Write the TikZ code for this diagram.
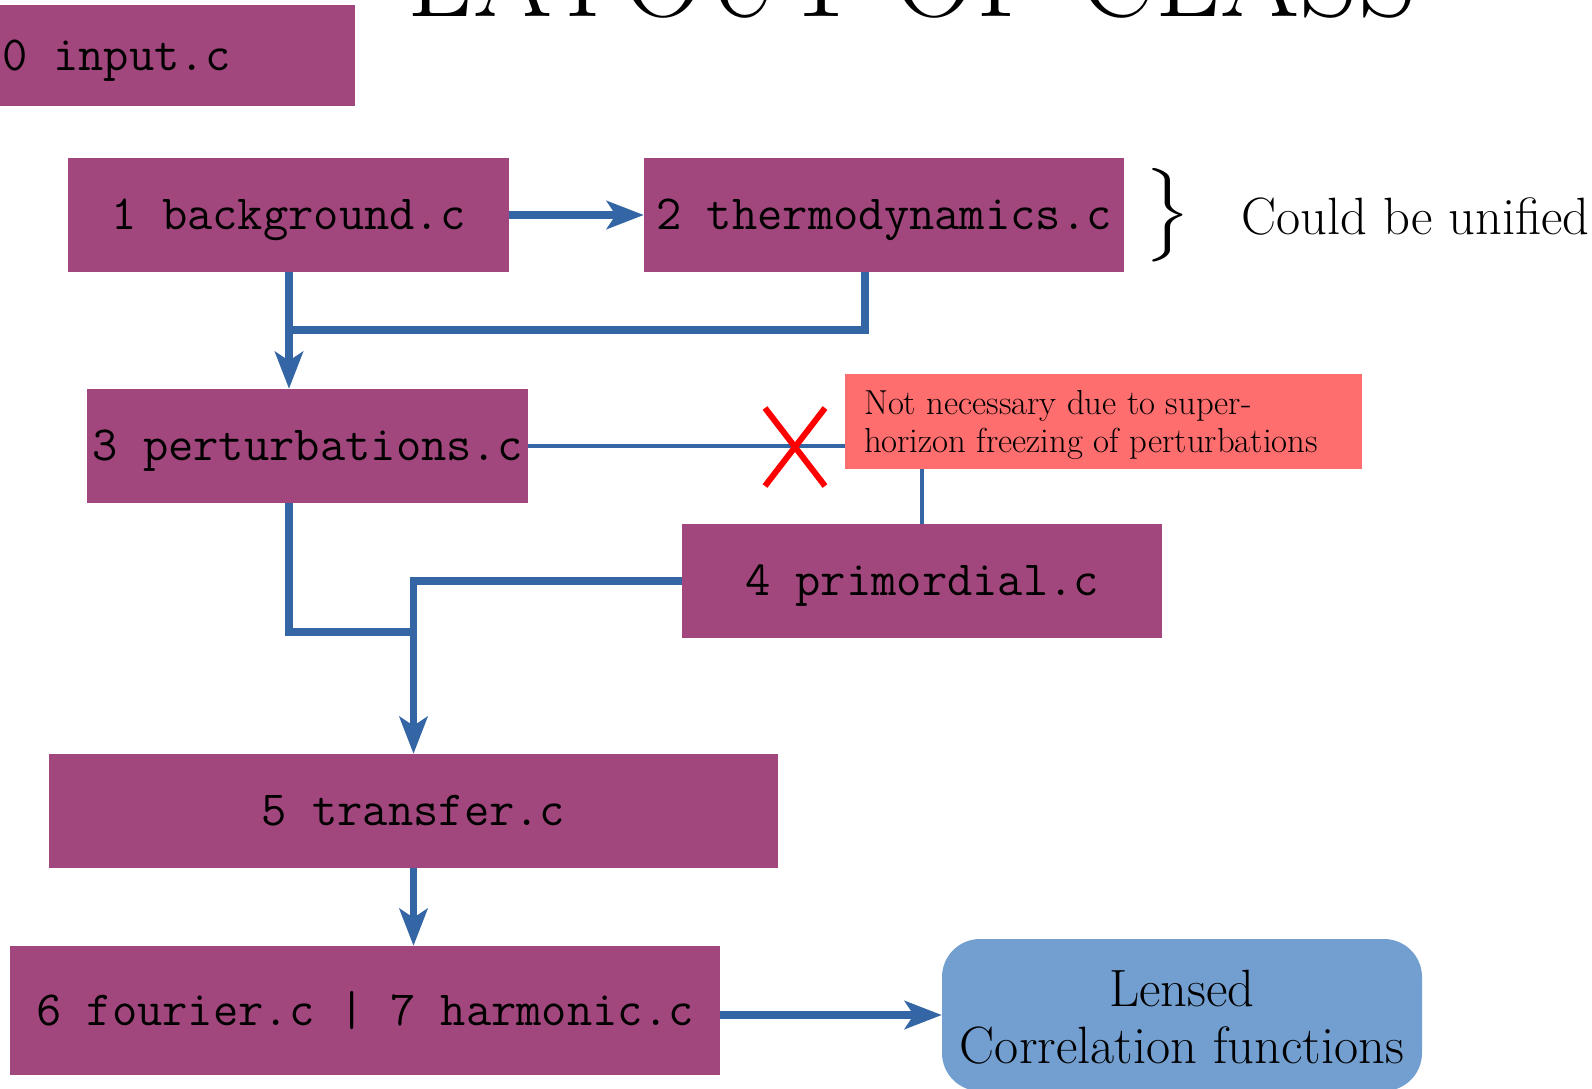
\documentclass[tikz,border=0pt]{standalone}
\usepackage{fontspec}
\usetikzlibrary{arrows.meta}

\definecolor{boxpurple}{HTML}{A2477D}
\definecolor{notered}{HTML}{FF6E6E}
\definecolor{outblue}{HTML}{729FCF}
\definecolor{flowblue}{HTML}{3465A4}

\begin{document}
\begin{tikzpicture}[x=1pt,y=-1pt,
  module/.style={fill=boxpurple, inner sep=0pt, minimum height=114pt,
    text height=30pt, text depth=1pt,
    font=\fontsize{49.1}{58}\selectfont\ttfamily},
  flow/.style={draw=flowblue, line width=7.5pt,
    -{Stealth[length=37pt,width=28pt,inset=9pt]}},
  link/.style={draw=flowblue, line width=7.5pt},
  thinlink/.style={draw=flowblue, line width=4pt},
  crossmark/.style={draw=red, line width=6pt},
  bigroman/.style={font=\fontsize{52.5}{57}\selectfont},
]
\clip (0,0) rectangle (1592,1088);

% title
\node[anchor=base, inner sep=0pt, font=\fontsize{114}{130}\selectfont] (title) at (912,16) {LAYOUT OF CLASS};

% modules
\node[module, minimum width=477pt, minimum height=101pt] (b0) at (116.5,55.5) {0 input.c};
\node[module, minimum width=441pt] (b1) at (288.5,215) {1 background.c};
\node[module, minimum width=480pt] (b2) at (884,215) {2 thermodynamics.c};
\node[module, minimum width=441pt] (b3) at (307.5,446) {3 perturbations.c};
\node[module, minimum width=480pt] (b4) at (922,581) {4 primordial.c};
\node[module, minimum width=729pt] (b5) at (413.5,811) {5 transfer.c};
\node[module, minimum width=710pt, minimum height=129pt] (b6) at (365,1010.5) {6 fourier.c | 7 harmonic.c};

% output
\node[fill=outblue, rounded corners=38pt, minimum width=480pt, minimum height=152pt,
  align=center, bigroman] (out) at (1182,1015) {};
\node[align=center, bigroman, inner sep=0pt] (outtext) at ([yshift=-2pt]out.center)
  {Lensed\\Correlation functions};

% remark on the primordial link
\node[fill=notered, inner xsep=19pt, inner ysep=0pt, minimum height=95pt,
  text width=479pt, align=left] (note) at (1103.5,421.5) {};
\node[anchor=west, inner sep=0pt, align=left, font=\fontsize{34.7}{38}\selectfont]
  (notetext) at ([xshift=19pt, yshift=-3pt]note.west)
  {Not necessary due to super-\\horizon freezing of perturbations};

% brace and comment
\node[inner sep=0pt] (brace) at (1168,215)
  {\scalebox{7}[5.2]{\fontsize{10}{12}\selectfont$\Big\}$}};
\node[anchor=base west, inner sep=0pt, bigroman] (unify) at (1241,234) {Could be unified};

% connectors
\coordinate (m12) at (289,330);
\coordinate (m35) at (413.5,632);
\draw[flow] (b1.east) -- (b2.west);
\draw[flow] (b1.south -| m12) -- (m12 |- b3.north);
\draw[link] ([xshift=-19pt]b2.south) |- (m12);
\draw[link] (b3.south -| m12) |- (m35);
\draw[flow] (b4.west) -| (b5.north);
\draw[flow] (b5.south) -- (b5.south |- b6.north);
\draw[flow] (b6.east |- out.west) -- (out.west);

\draw[thinlink] (b3.east) -- (b3.east -| note.west);
\draw[thinlink] (note.south -| b4.north) -- (b4.north);

\coordinate (cut) at (795,447);
\draw[crossmark] ([shift={(-30,-39)}]cut) -- ([shift={(30,39)}]cut)
                 ([shift={(-30,39)}]cut) -- ([shift={(30,-39)}]cut);
\end{tikzpicture}
\end{document}
